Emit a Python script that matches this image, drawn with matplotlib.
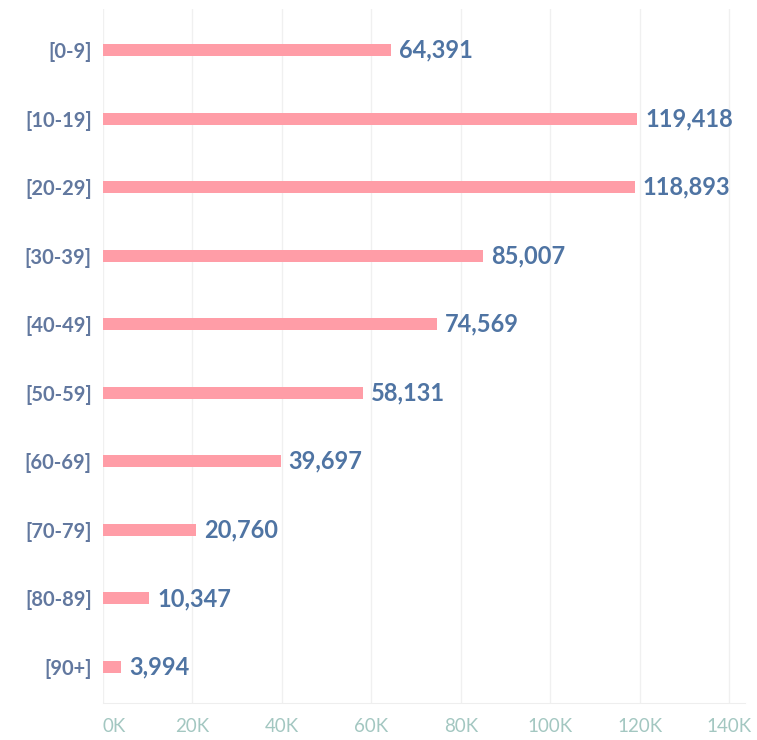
import numpy as np
import matplotlib.pyplot as plt
from matplotlib.ticker import FuncFormatter

# age groups and patient counts
age_groups = ['[0-9]', '[10-19]', '[20-29]', '[30-39]', '[40-49]',
              '[50-59]', '[60-69]', '[70-79]', '[80-89]', '[90+]']
counts = [64391, 119418, 118893, 85007, 74569, 58131, 39697, 20760, 10347, 3994]
x_ticks = [0, 20000, 40000, 60000, 80000, 100000, 120000, 140000]

BAR_COLOR = '#ff9da7'
LABEL_COLOR = '#4f74a3'
CAT_COLOR = '#62789f'
TICK_COLOR = '#a3c7c1'

plt.rcParams['font.family'] = ['Lato', 'DejaVu Sans']

fig = plt.figure(figsize=(7.57, 7.40), dpi=100)
ax = fig.add_axes([0.136, 0.05, 0.848, 0.938])

y = np.arange(len(age_groups))
ax.barh(y, counts, height=0.175, color=BAR_COLOR, zorder=3)

# value labels next to bar ends
for yi, v in zip(y, counts):
    ax.text(v + 1800, yi, f'{v:,}', va='center', ha='left',
            fontsize=17, fontweight='bold', color=LABEL_COLOR, zorder=4)

ax.set_ylim(len(age_groups) - 0.475, -0.6)
ax.set_xlim(0, 143500)
ax.set_yticks(y)
ax.set_yticklabels(age_groups, fontsize=14.5, fontweight='bold', color=CAT_COLOR)
ax.set_xticks(x_ticks)
ax.xaxis.set_major_formatter(FuncFormatter(lambda v, p: f'{int(v / 1000)}K'))
ax.tick_params(axis='x', colors=TICK_COLOR, labelsize=13.5, length=0, pad=11)
ax.tick_params(axis='y', length=0, pad=8)
ax.get_xticklabels()[0].set_ha('left')

ax.grid(axis='x', color='#f0f0f0', linewidth=1, zorder=0)
for side in ['top', 'right', 'left']:
    ax.spines[side].set_visible(False)
ax.spines['bottom'].set_color('#eeeeee')

fig.savefig('out.png', dpi=100)
